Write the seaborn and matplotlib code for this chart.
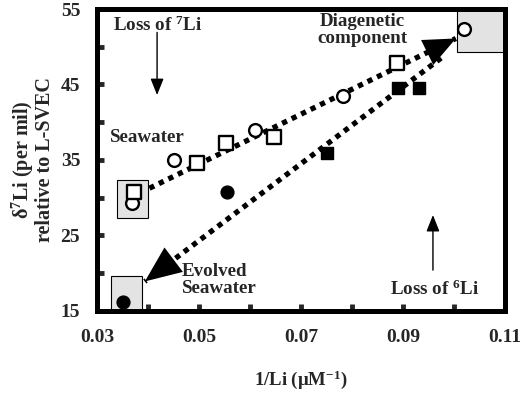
import matplotlib
matplotlib.use("Agg")
import matplotlib.pyplot as plt
import seaborn as sns
import pandas as pd
from matplotlib.patches import Rectangle, FancyArrowPatch
from matplotlib.ticker import MultipleLocator, FixedLocator

# ---- data ----
open_sq_x = [0.0372, 0.0496, 0.0554, 0.0647, 0.0889]
open_sq_y = [30.8, 34.6, 37.3, 38.0, 47.9]
open_ci_x = [0.0369, 0.0452, 0.0611, 0.0783, 0.1020]
open_ci_y = [29.3, 35.0, 39.0, 43.5, 52.3]
fill_sq_x = [0.0751, 0.0890, 0.0931]
fill_sq_y = [35.9, 44.5, 44.6]
fill_ci_x = [0.0556, 0.0351]
fill_ci_y = [30.7, 16.2]

# mixing / evolution trends
upper_x = [0.0403, 0.1004]
upper_y = [31.25, 51.1]
lower_x = [0.0975, 0.0394]
lower_y = [48.5, 18.9]

# end-member boxes: (x0, x1, y0, y1)
box_seawater = (0.0340, 0.0401, 27.3, 32.4)
box_evolved = (0.0327, 0.0389, 15.0, 19.6)
box_diagenetic = (0.1007, 0.1100, 49.3, 55.0)

x_ticks = [0.03, 0.05, 0.07, 0.09, 0.11]
x_ticklabels = ["0.03", "0.05", "0.07", "0.09", "0.11"]
y_ticks = [15, 25, 35, 45, 55]
y_ticklabels = ["15", "25", "35", "45", "55"]

sns.set_style("white")
plt.rcParams['font.family'] = ['Liberation Serif', 'DejaVu Serif']
plt.rcParams['font.weight'] = 'bold'
plt.rcParams['mathtext.default'] = 'regular'

fig = plt.figure(figsize=(5.21, 3.93), dpi=100)
ax = fig.add_axes([0.186, 0.209, 0.783, 0.768])

# boxes
for (x0, x1, y0, y1) in [box_seawater, box_evolved, box_diagenetic]:
    ax.add_patch(Rectangle((x0, y0), x1 - x0, y1 - y0, facecolor='#e3e3e3',
                           edgecolor='black', lw=0.8, zorder=1))

# dotted trend lines
ax.plot(upper_x, upper_y, color='black', lw=3.8, linestyle=(0, (1, 1)),
        dash_capstyle='butt', zorder=2)
ax.plot(lower_x, lower_y, color='black', lw=3.8, linestyle=(0, (1, 1)),
        dash_capstyle='butt', zorder=2)

def head(xs, ys, hl, hw):
    dx = xs[1] - xs[0]
    dy = ys[1] - ys[0]
    a = FancyArrowPatch((xs[1] - dx * 0.08, ys[1] - dy * 0.08), (xs[1], ys[1]),
                        arrowstyle=f'-|>,head_length={hl},head_width={hw}',
                        mutation_scale=1, lw=0, color='black',
                        shrinkA=0, shrinkB=0, zorder=3)
    ax.add_patch(a)

head(upper_x, upper_y, 23, 10)
head(lower_x, lower_y, 26, 11)

# points
df_os = pd.DataFrame({'x': open_sq_x, 'y': open_sq_y})
df_oc = pd.DataFrame({'x': open_ci_x, 'y': open_ci_y})
df_fs = pd.DataFrame({'x': fill_sq_x, 'y': fill_sq_y})
df_fc = pd.DataFrame({'x': fill_ci_x, 'y': fill_ci_y})

sns.scatterplot(data=df_oc, x='x', y='y', marker='o', s=85, facecolor='white',
                edgecolor='black', linewidth=1.7, ax=ax, zorder=4)
sns.scatterplot(data=df_os, x='x', y='y', marker='s', s=95, facecolor='white',
                edgecolor='black', linewidth=1.7, ax=ax, zorder=5)
sns.scatterplot(data=df_fs, x='x', y='y', marker='s', s=85, color='black',
                edgecolor='black', linewidth=1, ax=ax, zorder=5)
sns.scatterplot(data=df_fc, x='x', y='y', marker='o', s=85, color='black',
                edgecolor='black', linewidth=1, ax=ax, zorder=5)

# annotation arrows
ax.annotate('', xy=(0.0418, 43.6), xytext=(0.0418, 51.9),
            arrowprops=dict(arrowstyle='-|>,head_length=1.0,head_width=0.4',
                            mutation_scale=10, lw=1, color='black',
                            shrinkA=0, shrinkB=0))
ax.annotate('', xy=(0.0959, 27.7), xytext=(0.0959, 20.4),
            arrowprops=dict(arrowstyle='-|>,head_length=1.0,head_width=0.4',
                            mutation_scale=10, lw=1, color='black',
                            shrinkA=0, shrinkB=0))

tfs = 13.7
ax.text(0.0332, 52.8, 'Loss of $^{7}$Li', fontsize=tfs, fontweight='bold',
        ha='left', va='center')
ax.text(0.0821, 52.2, 'Diagenetic\ncomponent', fontsize=tfs, fontweight='bold',
        ha='center', va='center', linespacing=1.0)
ax.text(0.0326, 38.0, 'Seawater', fontsize=tfs, fontweight='bold',
        ha='left', va='center')
ax.text(0.0466, 19.1, 'Evolved\nSeawater', fontsize=tfs, fontweight='bold',
        ha='left', va='center', linespacing=1.0)
ax.text(0.0963, 17.8, 'Loss of $^{6}$Li', fontsize=tfs, fontweight='bold',
        ha='center', va='center')

ax.set_xlim(0.03, 0.11)
ax.set_ylim(15, 55)
ax.xaxis.set_major_locator(FixedLocator(x_ticks))
ax.set_xticklabels(x_ticklabels)
ax.yaxis.set_major_locator(FixedLocator(y_ticks))
ax.set_yticklabels(y_ticklabels)
ax.xaxis.set_minor_locator(MultipleLocator(0.01))
ax.yaxis.set_minor_locator(MultipleLocator(5))
ax.tick_params(which='both', direction='in', length=5, width=3.5,
               bottom=True, left=True, top=False, right=False)
ax.tick_params(axis='x', which='major', labelsize=14, pad=13)
ax.tick_params(axis='y', which='major', labelsize=14, pad=12)
for lab in ax.get_xticklabels() + ax.get_yticklabels():
    lab.set_fontweight('bold')
for sp in ax.spines.values():
    sp.set_linewidth(3.6)
    sp.set_color('black')

ax.set_xlabel('1/Li (\u03bcM$^{-1}$)', fontsize=13.5, fontweight='bold', labelpad=16)
ax.set_ylabel('\u03b4$^{7}$Li (per mil)\nrelative to L-SVEC', fontsize=14.5,
              fontweight='bold', labelpad=4, linespacing=0.95)
ax.grid(False)

fig.savefig('out.png', dpi=100)
